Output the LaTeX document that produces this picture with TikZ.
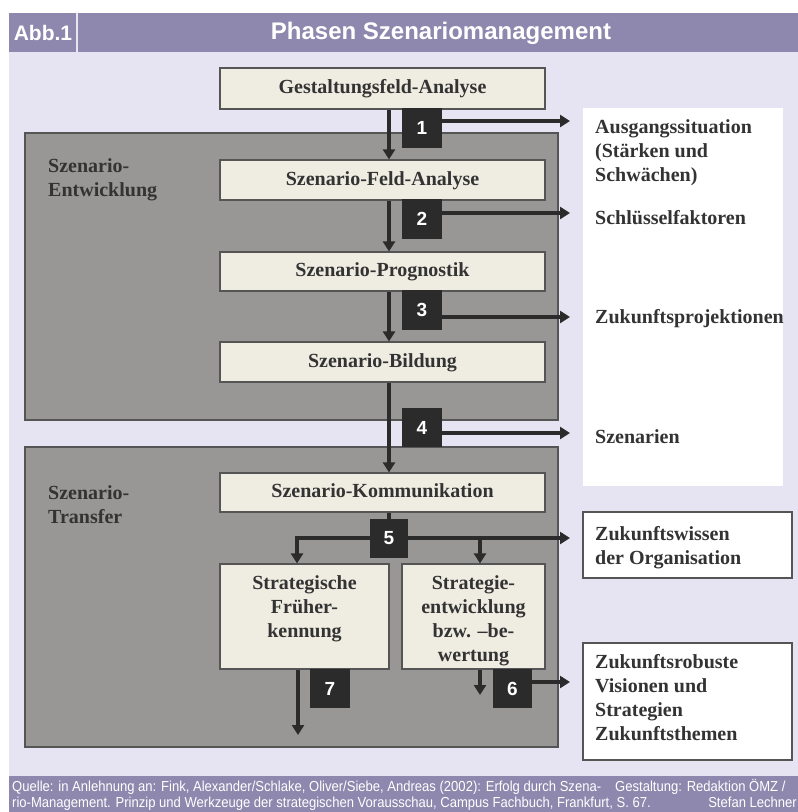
\documentclass[tikz,border=0pt]{standalone}
\usepackage{fontspec}
\setmainfont{Liberation Serif}
\newfontfamily\hsans{Liberation Sans}
\usetikzlibrary{arrows.meta,calc}
\definecolor{titlec}{HTML}{8E88AE}
\definecolor{lavc}{HTML}{E6E4F3}
\definecolor{grayc}{HTML}{989796}
\definecolor{creamc}{HTML}{EFEDE2}
\definecolor{darkc}{HTML}{2B2B2B}
\definecolor{txtc}{HTML}{333333}
\definecolor{edgec}{HTML}{555555}
\newcommand{\rbx}[7]{\node[#2, minimum width={#5-#3}, minimum height={#6-#4}, inner sep=0pt] (#1) at ({(#3+#5)/2},{(#4+#6)/2}) {#7};}
\newcommand{\tsr}{\rule{0pt}{15pt}}
\tikzset{
  phase/.style={draw=edgec, line width=1.2pt, fill=grayc},
  cream/.style={draw=edgec, line width=1.2pt, fill=creamc, text=txtc,
     font=\fontsize{20}{24}\selectfont\bfseries, text height=14pt, text depth=4pt},
  numbox/.style={fill=darkc, text=white, font=\hsans\fontsize{19}{22}\selectfont\bfseries},
  outbox/.style={draw=edgec, line width=1.2pt, fill=white},
  plainbox/.style={fill=white},
  lbl/.style={text=txtc, font=\fontsize{20}{24}\selectfont\bfseries, align=left, inner sep=0pt, anchor=north west},
  ctext/.style={text=txtc, font=\fontsize{20}{24}\selectfont\bfseries, align=center, inner sep=0pt, anchor=north},
  arr/.style={draw=darkc, line width=3.2pt, -{Triangle[length=10pt,width=12pt]}},
  plainline/.style={draw=darkc, line width=3.2pt},
  foot/.style={text=white, font=\hsans\fontsize{14.5}{16}\selectfont, inner sep=0pt}
}
\begin{document}
\begin{tikzpicture}[x=1pt,y=-1pt]
\useasboundingbox (0,0) rectangle (798,812);
% background
\fill[white] (0,0) rectangle (798,812);
\fill[lavc] (9,52) rectangle (798,776);
\fill[titlec] (9,13) rectangle (798,52);
\fill[titlec] (9,776) rectangle (798,812);
\draw[white!80!titlec, line width=1.5pt] (77,13) -- (77,52);
\node[text=white, font=\hsans\fontsize{21}{24}\selectfont\bfseries] (abb) at (43,33) {Abb.1};
\node[text=white, font=\hsans\fontsize{24}{28}\selectfont\bfseries] (title) at (441,33) {Phasen Szenariomanagement};
% phase areas
\rbx{ent}{phase}{25}{133}{558}{420}{}
\rbx{tra}{phase}{25}{447}{558}{747}{}
\node[lbl] (lent) at (48,157) {\tsr Szenario-\\Entwicklung};
\node[lbl] (ltra) at (48,484) {\tsr Szenario-\\Transfer};
% right output boxes
\rbx{outA}{plainbox}{583}{108}{783}{486}{}
\rbx{outB}{outbox}{583}{512}{792}{578}{}
\rbx{outC}{outbox}{583}{643}{792}{760}{}
\node[lbl] (o1) at (595,118) {\tsr Ausgangssituation\\(Stärken und\\Schwächen)};
\node[lbl] (o2) at (595,209) {\tsr Schlüsselfaktoren};
\node[lbl] (o3) at (595,308) {\tsr Zukunftsprojektionen};
\node[lbl] (o4) at (595,428) {\tsr Szenarien};
\node[lbl] (o5) at (595,525) {\tsr Zukunftswissen\\der Organisation};
\node[lbl] (o6) at (595,653) {\tsr Zukunftsrobuste\\Visionen und\\Strategien\\Zukunftsthemen};
% phase boxes
\rbx{g}{cream}{220}{68}{545}{109}{Gestaltungsfeld-Analyse}
\rbx{fa}{cream}{220}{160}{545}{200}{Szenario-Feld-Analyse}
\rbx{pr}{cream}{220}{252}{545}{291}{Szenario-Prognostik}
\rbx{bi}{cream}{220}{342}{545}{382}{Szenario-Bildung}
\rbx{ko}{cream}{220}{473}{545}{512}{Szenario-Kommunikation}
\rbx{fe}{cream}{220}{564}{389}{669}{}
\rbx{se}{cream}{402}{564}{545}{669}{}
\node[ctext] (fet) at ($(fe.north)+(0,11)$) {\tsr Strategische\\Früher-\\kennung};
\node[ctext] (set) at ($(se.north)+(0,11)$) {\tsr Strategie-\\entwicklung\\bzw. –be-\\wertung};
% coordinates
\coordinate (ax) at (389,0);
\coordinate (t1) at (570,121);
\coordinate (t2) at (570,213);
\coordinate (t3) at (570,317);
\coordinate (t4) at (570,433);
\coordinate (t5) at (570,538);
\coordinate (t6) at (570,682);
\coordinate (b5l) at (297,538);
\coordinate (b5r) at (480,538);
\coordinate (a7) at (298,0);
\coordinate (e7) at (298,735);
\coordinate (e6) at (480,695);
% number boxes
\rbx{n1}{numbox}{402}{108}{442}{148}{1}
\rbx{n2}{numbox}{402}{199}{442}{239}{2}
\rbx{n3}{numbox}{402}{290}{442}{330}{3}
\rbx{n4}{numbox}{402}{408}{442}{447}{4}
% arrows
\draw[arr] (g.south -| ax) -- (fa.north -| ax);
\draw[arr] (fa.south -| ax) -- (pr.north -| ax);
\draw[arr] (pr.south -| ax) -- (bi.north -| ax);
\draw[arr] (bi.south -| ax) -- (ko.north -| ax);
\draw[arr] (n1.east |- t1) -- (t1);
\draw[arr] (n2.east |- t2) -- (t2);
\draw[arr] (n3.east |- t3) -- (t3);
\draw[arr] (n4.east |- t4) -- (t4);
\draw[plainline] (ko.south -| ax) -- (b5l -| ax);
\draw[arr] (b5l -| ax) -| (fe.north -| b5l);
\draw[arr] (b5l -| ax) -| (se.north -| b5r);
\draw[arr] (b5l -| ax) -- (t5);
\draw[arr] (fe.south -| a7) -- (e7);
\draw[arr] (se.south -| e6) -- (e6);
\rbx{n5}{numbox}{370}{519}{408}{558}{5}
\rbx{n7}{numbox}{310}{669}{350}{708}{7}
\rbx{n6}{numbox}{493}{669}{532}{708}{6}
\draw[arr] (n6.east |- t6) -- (t6);
% footer
\node[foot, anchor=base west] (f1) at (12,791) {\scalebox{0.9}[1]{Quelle: in Anlehnung an: Fink, Alexander/Schlake, Oliver/Siebe, Andreas (2002): Erfolg durch Szena-}};
\node[foot, anchor=base west] (f2) at (12,807) {\scalebox{0.9}[1]{rio-Management. Prinzip und Werkzeuge der strategischen Vorausschau, Campus Fachbuch, Frankfurt, S. 67.}};
\node[foot, anchor=base west] (f3) at (615,791) {\scalebox{0.9}[1]{Gestaltung: Redaktion ÖMZ /}};
\node[foot, anchor=base east] (f4) at (797,807) {\scalebox{0.9}[1]{Stefan Lechner}};
\end{tikzpicture}
\end{document}
